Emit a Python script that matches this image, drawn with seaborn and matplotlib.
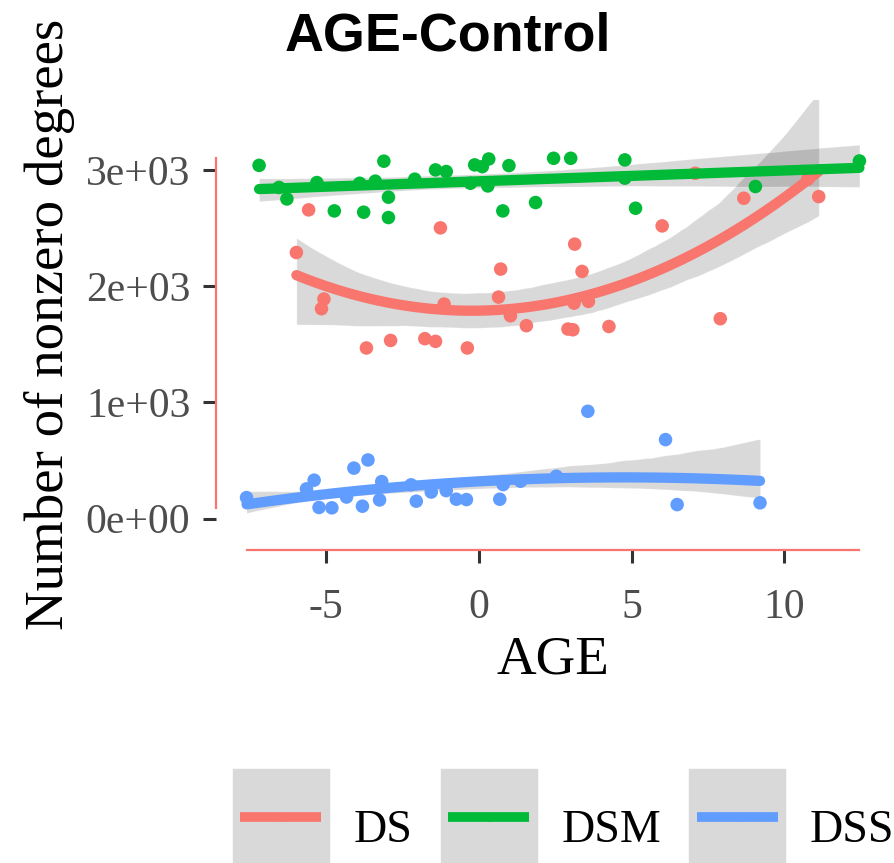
import numpy as np
import pandas as pd
import seaborn as sns
import matplotlib.pyplot as plt
from matplotlib.lines import Line2D
from matplotlib.legend_handler import HandlerTuple

# data
ds_age = [-5.96, -5.56, -5.14, -5.06, -3.67, -2.88, -1.76, -1.41, -1.25, -1.13, -0.37,
          0.65, 0.72, 1.04, 1.56, 2.92, 3.08, 3.12, 3.14, 3.38, 3.59, 4.26, 6.0, 7.08,
          7.9, 8.67, 10.76, 11.12]
ds_deg = [2290, 2657, 1806, 1889, 1468, 1533, 1548, 1525, 2502, 1846, 1468,
          1906, 2147, 1745, 1660, 1631, 1625, 1854, 2362, 2127, 1869, 1653, 2519, 2972,
          1720, 2757, 2921, 2771]

dsm_age = [-7.18, -6.53, -6.27, -5.29, -4.72, -3.89, -3.76, -3.38, -3.10, -2.95, -2.95,
           -2.09, -1.41, -1.06, -0.27, -0.13, 0.12, 0.33, 0.30, 0.99, 0.79, 1.86, 2.45,
           3.01, 4.78, 4.78, 5.13, 9.05, 12.45]
dsm_deg = [3040, 2850, 2751, 2892, 2648, 2886, 2637, 2904, 3076, 2766, 2591,
           2921, 3001, 2987, 2886, 3044, 3029, 3095, 2863, 3038, 2648, 2720, 3101,
           3101, 3087, 2930, 2671, 2858, 3078]

dss_age = [-7.59, -5.63, -5.38, -5.22, -4.80, -4.32, -4.08, -3.80, -3.62, -3.24, -3.17,
           -2.21, -2.04, -1.55, -1.06, -0.73, -0.40, 0.69, 0.80, 1.37, 2.54, 3.57, 6.11,
           6.49, 9.2]
dss_deg = [180, 255, 330, 95, 92, 185, 434, 106, 504, 160, 318,
           290, 149, 228, 240, 166, 163, 166, 292, 321, 364, 923, 679,
           120, 135]

groups = ["DS", "DSM", "DSS"]
colors = {"DS": "#F8766D", "DSM": "#00BA38", "DSS": "#619CFF"}
orders = {"DS": 2, "DSM": 1, "DSS": 2}
cis = {"DS": 95, "DSM": 95, "DSS": 68}

df = pd.concat([
    pd.DataFrame({"AGE": ds_age, "deg": ds_deg, "group": "DS"}),
    pd.DataFrame({"AGE": dsm_age, "deg": dsm_deg, "group": "DSM"}),
    pd.DataFrame({"AGE": dss_age, "deg": dss_deg, "group": "DSS"}),
], ignore_index=True)

sns.set_style("white")
plt.rcParams['font.family'] = ['Liberation Serif', 'DejaVu Serif']
plt.rcParams['axes.unicode_minus'] = False
plt.rcParams['text.color'] = 'black'
plt.rcParams['axes.labelcolor'] = 'black'

fig = plt.figure(figsize=(8.95, 8.63), dpi=100)
ax = fig.add_axes([0.2413, 0.3627, 0.7531, 0.522])

# points
sns.scatterplot(data=df, x="AGE", y="deg", hue="group", palette=colors,
                s=95, edgecolor="none", legend=False, ax=ax, zorder=2)

# grey confidence bands, then coloured fit lines
for g in groups:
    sub = df[df["group"] == g]
    sns.regplot(data=sub, x="AGE", y="deg", order=orders[g], scatter=False,
                ci=cis[g], seed=0, ax=ax, line_kws={"color": "black", "alpha": 0})
for g in groups:
    sub = df[df["group"] == g]
    sns.regplot(data=sub, x="AGE", y="deg", order=orders[g], scatter=False,
                ci=None, ax=ax, line_kws={"color": colors[g], "lw": 7.4, "zorder": 4})

ax.set_xlim(-8.59, 13.45)
ax.set_ylim(-271, 3607)

yt = [0, 1000, 2000, 3000]
ax.set_yticks(yt)
ax.set_yticklabels(["{:.0e}".format(v) for v in yt])
ax.set_xticks([-5, 0, 5, 10])
ax.tick_params(axis="both", labelsize=30, labelcolor="#4D4D4D", color="#333333",
               length=9.5, width=2.2, direction="out", bottom=True, left=True)
ax.tick_params(axis="y", pad=9)
ax.tick_params(axis="x", pad=18)

# range frame in red
for s in ["top", "right"]:
    ax.spines[s].set_visible(False)
for s in ["left", "bottom"]:
    ax.spines[s].set_color("#F8766D")
    ax.spines[s].set_linewidth(1.6)
ax.spines["left"].set_bounds(df["deg"].min(), df["deg"].max())
ax.spines["bottom"].set_bounds(df["AGE"].min(), df["AGE"].max())

ax.set_xlabel("AGE", fontsize=39.5, labelpad=6)
ax.set_ylabel("Number of nonzero degrees", fontsize=39.5, labelpad=8)

fig.text(0.5, 0.958, "AGE-Control", ha="center", va="center",
         fontsize=38.8, fontweight="bold", family="Liberation Sans")

handles = [(Line2D([], [], color="#D9D9D9", marker="s", markersize=68.4,
                   linestyle="none"),
            Line2D([], [], color=colors[g], lw=7, marker="o", markersize=5,
                   solid_capstyle="butt"))
           for g in groups]
fig.legend(handles, groups, handler_map={tuple: HandlerTuple(ndivide=1)},
           loc="center", bbox_to_anchor=(0.634, 0.041), ncol=3, frameon=False,
           fontsize=33, handlelength=1.77, handleheight=2.07, handletextpad=0.70,
           columnspacing=0.78)

plt.savefig("out.png", dpi=100)
